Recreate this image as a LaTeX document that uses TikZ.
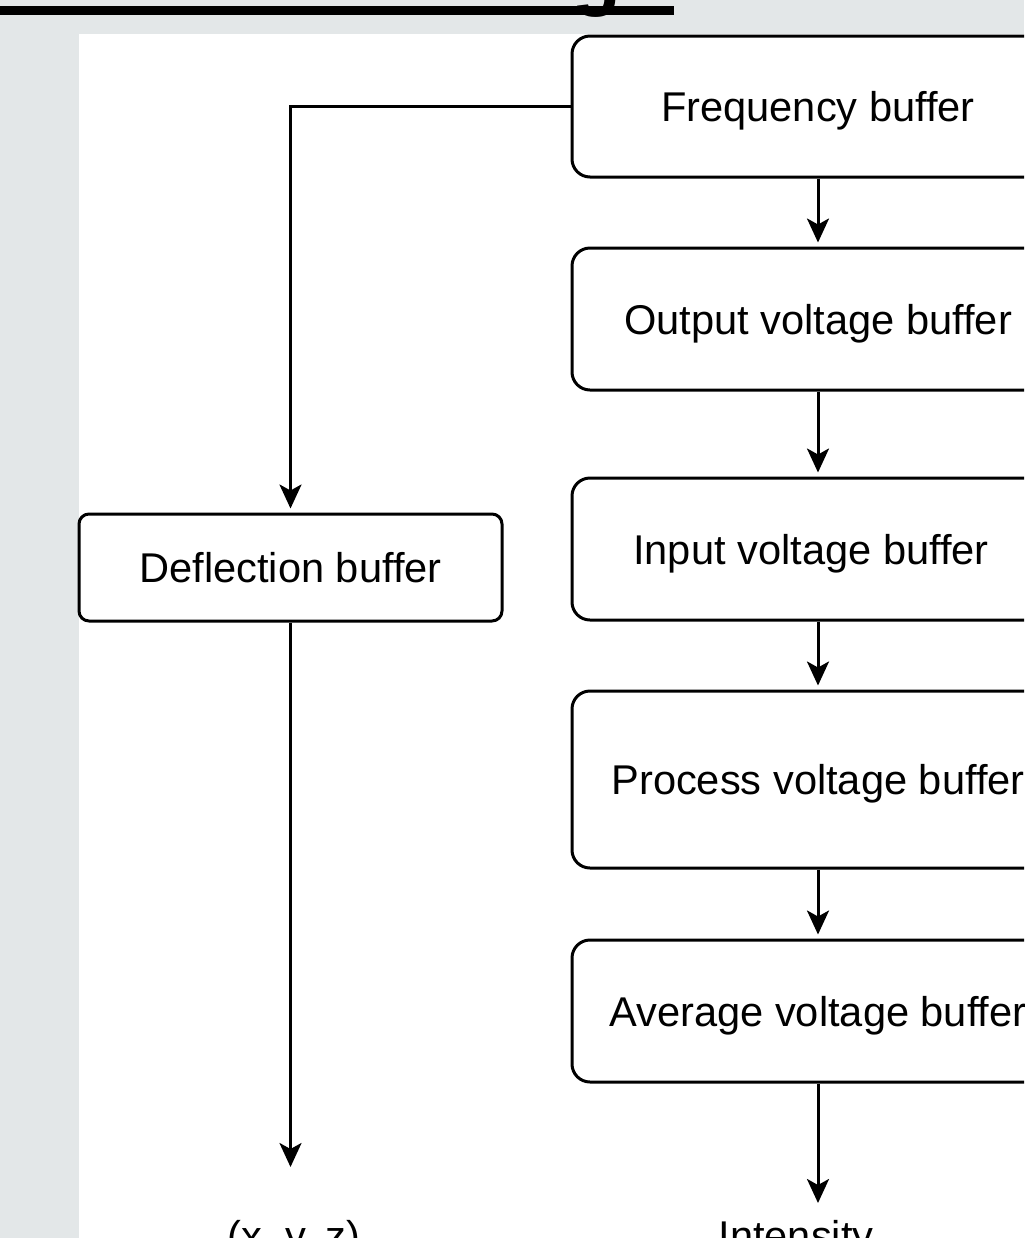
\documentclass[tikz,border=0pt]{standalone}
\usepackage{fontspec}
\setmainfont{Liberation Sans}
\usetikzlibrary{arrows.meta}
\definecolor{pagegray}{RGB}{227,231,232}
\begin{document}
\begin{tikzpicture}[x=0.5pt, y=-0.5pt, line width=1.5pt,
        txt/.style={inner sep=0pt, font=\fontsize{20.8pt}{25pt}\selectfont},
        buf/.style={txt, draw, rounded corners=9pt, minimum width=246pt, text height=15.4pt, text depth=0pt},
        arr/.style={-{Stealth[length=12pt,width=11pt,inset=3pt]}, shorten >=2pt}]
        \useasboundingbox (0,0) rectangle (1024,1238);
        \clip (0,0) rectangle (1024,1238);
        \fill[pagegray] (0,0) rectangle (1024,1238);
        \fill[white] (79,34) rectangle (1024,1238);
        % cut-off heading above the chart
        \node[inner sep=0pt, anchor=base, font=\fontsize{40pt}{48pt}\selectfont\bfseries] (title) at (597,0) {g};
        \fill (0,6) rectangle (674,15);

        \node[buf, minimum height=70.5pt] (freq) at (818,106.5) {Frequency buffer};
        \node[buf, minimum height=71pt] (outv) at (818,319) {Output voltage buffer};
        \node[buf, minimum height=71pt] (inv) at (818,549) {Input voltage buffer\hspace*{7pt}};
        \node[buf, minimum height=88.5pt] (procv) at (818,779.5) {Process voltage buffer};
        \node[buf, minimum height=71pt] (avgv) at (818,1011) {Average voltage buffer};
        \node[buf, minimum width=211.5pt, minimum height=53.5pt, rounded corners=5pt] (defl) at (290.5,567.5) {Deflection buffer};

        \node[txt, anchor=base] (xyz) at (294,1250) {(x, y, z)};
        \node[txt, anchor=base] (inten) at (796,1250) {Intensity};
        \coordinate (xyztip) at (290.5,1167);
        \coordinate (intip) at (818,1203);

        \draw[arr] (freq.west) -| (defl.north);
        \foreach \a/\b in {freq/outv, outv/inv, inv/procv, procv/avgv}
            \draw[arr] (\a) -- (\b);
        \draw[arr, shorten >=0pt] (defl) -- (xyztip);
        \draw[arr, shorten >=0pt] (avgv) -- (intip);
    \end{tikzpicture}
\end{document}
